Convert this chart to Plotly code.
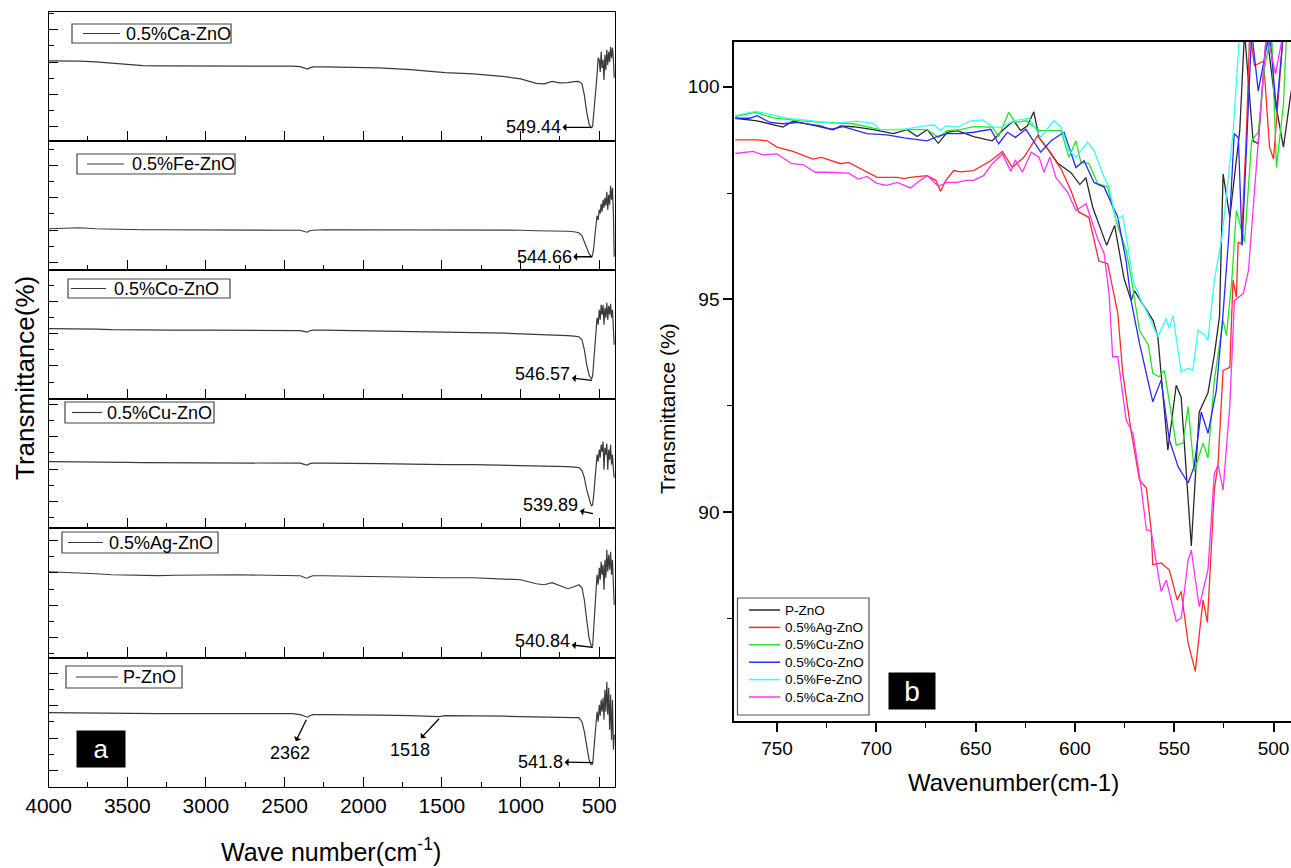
import plotly.graph_objects as go

# ---------------- Panel (a): full FTIR spectra (stacked) ----------------
wavenumber_a = [4000, 3900, 3800, 3700, 3600, 3500, 3400, 3300, 3200, 3000,
                2800, 2600, 2450, 2400, 2370, 2355, 2340, 2320, 2250, 2100,
                1900, 1700, 1560, 1518, 1480, 1300, 1100, 1000, 900, 850,
                800, 750, 700, 660, 630, 610, 595, 580, 565, 555,
                548, 542, 535, 528, 521, 514, 507, 500, 494, 488,
                482, 476, 470, 464, 458, 452, 446, 440, 434, 428,
                422, 416, 410, 405]

ca_a = [80, 80, 79.7, 79, 77.7, 76, 75.2, 75, 75, 75,
        75, 74.7, 74.7, 74.2, 72.4, 71.8, 73, 74, 74, 73.5,
        73, 71.2, 69.3, 68.4, 68.2, 67, 64.2, 62, 57.5, 57,
        59.5, 58, 58.3, 59.3, 59.5, 57, 46, 29, 17, 14,
        13, 15, 26, 41, 53, 66, 83, 81, 69, 89,
        73, 81, 61, 86, 71, 91, 76, 89, 79, 94,
        83, 93, 81, 63]
fe_a = [41.3, 41.8, 42.3, 41.3, 40.8, 40.3, 40.3, 40.3, 40.3, 40.3,
        40.3, 40.3, 40.3, 39.8, 38.3, 37.8, 39.3, 39.8, 40.3, 40.3,
        40.3, 40.1, 40, 40, 40, 39.9, 39.8, 39.8, 39.3, 39.3,
        39.3, 39, 38.8, 38.3, 37.3, 34.3, 28.3, 20.3, 16.3, 14.3,
        13.3, 15.3, 22.3, 34.3, 42.3, 54.3, 50.3, 60.3, 56.3, 66.3,
        58.3, 70.3, 62.3, 72.3, 64.3, 78.3, 60.3, 75.3, 65.3, 84.3,
        70.3, 82.3, 55.3, 13.3]
co_a = [70.5, 70.5, 70.5, 70, 69.5, 69.3, 69, 69, 69, 69,
        69, 69, 69, 68.5, 67.5, 67, 68.5, 69, 69, 68.5,
        68, 67.5, 67, 66.5, 66.5, 66.5, 66, 65.5, 65, 64.8,
        64.5, 64, 63.5, 63, 62.5, 59.5, 49.5, 34.5, 24.5, 21.5,
        20.5, 23.5, 39.5, 54.5, 69.5, 81.5, 74.5, 89.5, 79.5, 94.5,
        84.5, 94.5, 74.5, 91.5, 81.5, 96.5, 79.5, 93.5, 84.5, 95.5,
        81.5, 89.5, 69.5, 54.5]
cu_a = [66.7, 66.7, 66.7, 66.5, 66.2, 66, 65.7, 65.7, 65.7, 65.7,
        65.7, 65.7, 65.7, 65.2, 63.7, 63.2, 64.7, 65.2, 65.2, 64.7,
        64.7, 64.2, 63.7, 63.7, 63.7, 63.7, 63.2, 62.7, 62.7, 62.5,
        62.2, 61.9, 61.7, 61.2, 60.7, 57.7, 50.7, 38.7, 28.7, 24.7,
        22.7, 23.7, 33.7, 48.7, 60.7, 73.7, 66.7, 78.7, 70.7, 83.7,
        76.7, 86.7, 58.7, 80.7, 73.7, 84.7, 58.7, 78.7, 68.7, 83.7,
        63.7, 73.7, 58.7, 50.7]
ag_a = [85.8, 85.3, 84.8, 83.8, 82.8, 82.3, 81.8, 82, 82.3, 82.8,
        82.8, 82.3, 82.3, 81.8, 79.8, 79.3, 80.8, 81.8, 81.8, 81.3,
        80.8, 80.3, 79.8, 79.8, 79.8, 79.8, 78.8, 77.8, 73.8, 72.8,
        74.8, 71.8, 68.8, 70.8, 72.8, 69.8, 57.8, 37.8, 19.8, 13.8,
        10.8, 11.8, 25.8, 47.8, 65.8, 82.8, 72.8, 89.8, 77.8, 95.8,
        82.8, 92.8, 67.8, 97.8, 79.8, 107.8, 85.8, 102.8, 87.8, 105.8,
        82.8, 97.8, 72.8, 52.8]
p_a = [74, 73.8, 73.5, 73.2, 73, 73, 73, 73, 73, 73,
       73, 73, 73, 72, 70, 69.5, 71, 72, 72, 72,
       71.5, 71, 70.5, 70, 71, 71, 70.5, 70, 69.5, 69.3,
       69, 69, 69, 69, 69, 65, 55, 39, 27, 23,
       22, 23, 35, 49, 62, 75, 65, 82, 71, 87,
       75, 89, 67, 97, 75, 105, 72, 99, 57, 92,
       47, 87, 37, 52]

samples_a = ["0.5%Ca-ZnO", "0.5%Fe-ZnO", "0.5%Co-ZnO", "0.5%Cu-ZnO", "0.5%Ag-ZnO", "P-ZnO"]
peak_wn_a = [549.44, 544.66, 546.57, 539.89, 540.84, 541.8]
peak_labels_a = ["549.44", "544.66", "546.57", "539.89", "540.84", "541.8"]
peak_level_a = [13.5, 13.3, 18.8, 14.7, 10.1, 24]
band_wn_a = [2362, 1518]
band_labels_a = ["2362", "1518"]
band_level_a = [67, 68]
x_ticks_a = [4000, 3500, 3000, 2500, 2000, 1500, 1000, 500]

# ---------------- Panel (b): zoom 770-490 cm-1 ----------------
wn_pzno = [771, 760, 747, 742, 732, 721.7, 718, 711.6, 701.5, 691.4, 684.5, 679.4, 674.4, 668.8,
           664.3, 659.2, 651, 641.6, 635.8, 630.8, 627.3, 623.9, 620.7, 618, 613, 608.6, 602, 597.5,
           594.5, 591, 584, 580, 575.3, 571.7, 570, 560.6, 558.2, 553.2, 549, 546.5, 541.4, 537.4,
           533, 529.7, 527.2, 525.4, 522, 517, 514.6, 510.3, 507.7, 503.5, 499.5, 495, 491.8, 489]
t_pzno = [99.26, 99.2, 99.05, 99.19, 99.1, 98.99, 99.08, 99.06, 98.99, 98.9, 98.99, 98.83, 98.99, 98.67,
          98.93, 98.97, 98.83, 98.73, 99.0, 99.2, 98.97, 99.08, 99.41, 98.8, 98.5, 98.2, 97.98, 97.7,
          97.86, 97.16, 96.27, 96.74, 95.5, 94.97, 95.2, 94.5, 94.1, 91.45, 92.98, 92.7, 89.2, 92.35,
          92.8, 93.73, 94.6, 97.95, 96.93, 98.97, 101.3, 98.73, 98.66, 101.3, 99.75, 98.58, 99.67, 100.5]

wn_ag = [771, 760, 755, 750, 742, 732, 727.5, 718, 714, 699.6, 689.5, 686, 683, 674.4, 670, 667.7,
         665, 661, 657.6, 651, 642.4, 636.5, 631.5, 625.7, 618.8, 613.8, 607, 602, 598, 593, 587.9,
         583.5, 578.4, 575.9, 571.7, 567.5, 564, 561.6, 560.8, 556.6, 552.5, 548.5, 546.5, 543, 539.4,
         535.5, 533.3, 529.8, 527.9, 525.4, 522, 520.4, 518.7, 517.8, 516.2, 513.6, 512, 509.6, 505,
         502, 500, 497.6, 495, 490]
t_ag = [98.75, 98.75, 98.73, 98.58, 98.48, 98.3, 98.34, 98.19, 98.22, 97.87, 97.87, 97.84, 97.87, 97.91,
        97.8, 97.54, 97.8, 98.03, 98.0, 98.03, 98.26, 98.48, 98.1, 98.34, 98.85, 98.54, 98.07, 97.56,
        97.05, 96.93, 95.9, 95.84, 94.67, 93.26, 91.9, 90.75, 90.56, 89.58, 88.76, 88.8, 88.64, 87.93,
        88.13, 86.92, 86.25, 87.93, 87.4, 90.52, 91.15, 93.33, 93.4, 95.45, 95.05, 96.35, 96.3, 98.97,
        101.3, 100.5, 100.6, 98.58, 98.3, 99.75, 101.3, 101.3]

wn_cu = [771, 761, 752, 738, 725, 711.6, 698, 686, 674.4, 668.7, 664.3, 657.6, 651, 641.6, 638.4,
         633.3, 630, 624.7, 618, 612, 607, 603, 599.5, 597, 593, 588.5, 583.5, 579.3, 574.2, 571.7,
         567.5, 563, 560.8, 557.6, 555, 551.5, 549, 545.6, 543, 539.9, 535.5, 533, 529.8, 525.4,
         523.7, 521, 518.7, 514.6, 511, 507.7, 504.5, 501, 498.5, 495, 493.4, 490]
t_cu = [99.3, 99.4, 99.27, 99.2, 99.16, 99.13, 98.99, 99.0, 98.99, 98.81, 98.97, 98.99, 99.06, 99.05,
        98.83, 99.4, 99.16, 99.2, 98.97, 98.97, 98.97, 98.34, 98.73, 98.22, 98.2, 97.72, 97.64, 96.85,
        96.15, 95.52, 94.27, 93.92, 93.26, 93.18, 93.33, 92.32, 91.57, 91.62, 92.47, 90.95, 91.62,
        91.27, 93.1, 94.5, 94.15, 95.45, 97.09, 96.35, 98.73, 98.93, 100.45, 101.3, 98.1, 99.6, 101.3,
        101.3]

wn_co = [771, 763.6, 760, 753.5, 747, 740, 728, 723, 716.7, 704.7, 694.6, 686, 674.4, 669.4, 664.3,
         657.6, 651, 642.4, 638.4, 634, 630, 624.7, 617.2, 612, 605.5, 599.5, 595.4, 590.4, 585.3,
         578.4, 574.2, 571.7, 567.5, 564, 560.8, 556.6, 552.5, 548, 543, 540, 536.4, 533, 528.8,
         525.4, 522.5, 519.8, 517.7, 515.8, 511, 507.7, 505.2, 502, 498.5, 495, 490]
t_co = [99.26, 99.26, 99.32, 99.16, 99.13, 99.16, 99.08, 99.0, 99.06, 98.9, 98.87, 98.8, 98.73, 98.83,
        98.9, 98.9, 98.93, 99.0, 98.66, 98.93, 98.81, 99.0, 98.46, 98.73, 98.93, 98.1, 98.26, 97.75,
        97.64, 96.93, 95.9, 94.97, 93.97, 93.26, 92.59, 93.1, 91.7, 91.06, 90.68, 91.06, 92.35, 91.85,
        92.86, 94.67, 96.5, 98.9, 98.8, 96.27, 101.3, 99.9, 100.5, 101.3, 99.44, 101.3, 101.3]

wn_fe = [771, 761, 755, 745, 732, 721.7, 709.7, 701.5, 698, 686, 676, 671, 667.7, 665, 659, 652.5,
         646.6, 641, 636.5, 630.8, 623, 617.2, 610.7, 607, 603, 599.5, 593.6, 590.4, 585.3, 582.8,
         579.3, 575.9, 573.5, 570.8, 566.7, 563.4, 558.2, 554, 552.5, 550.6, 546.5, 543, 540.6, 538,
         535.5, 533, 529.8, 526, 520.4, 517, 510, 500, 490]
t_fe = [99.32, 99.42, 99.37, 99.26, 99.2, 99.14, 99.19, 99.14, 98.99, 99.0, 99.08, 99.1, 98.97, 99.08,
        99.05, 99.2, 99.22, 99.05, 99.05, 99.2, 99.26, 98.81, 99.2, 99.05, 98.5, 98.34, 98.7, 98.5,
        97.87, 97.64, 96.85, 96.97, 96.3, 95.45, 94.97, 94.67, 94.12, 94.55, 94.32, 94.62, 93.29,
        93.38, 93.33, 94.27, 94.2, 94.04, 95.45, 96.46, 98.9, 101.3, 101.3, 101.3, 101.3]

wn_ca = [771, 767, 762, 757, 750, 742.6, 736.9, 730.8, 725, 714, 709, 704.7, 699.7, 694.6, 689.5,
         682.8, 679.4, 674.4, 668.8, 664.3, 659.2, 655, 651, 646, 641.6, 636.5, 632.3, 630, 626.4,
         622, 618, 615.6, 612.6, 609.6, 603.7, 599.5, 594.4, 588.5, 585.3, 582.8, 581, 578.4, 574.2,
         570.8, 566.7, 564, 561.6, 556.6, 554, 549, 546.5, 543, 541.4, 537.4, 533, 529.8, 527.9, 525.4,
         522, 519.7, 517.8, 515.2, 512.6, 507.7, 503.5, 499, 495, 490]
t_ca = [98.43, 98.46, 98.48, 98.4, 98.42, 98.19, 98.17, 97.99, 97.99, 97.97, 97.83, 97.89, 97.73, 97.68,
        97.75, 97.62, 97.75, 97.91, 97.66, 97.75, 97.75, 97.8, 97.8, 97.91, 98.19, 98.42, 98.01, 98.28,
        97.99, 98.46, 98.34, 97.99, 98.34, 97.87, 97.52, 97.09, 97.25, 96.42, 96.08, 95.14, 93.65,
        93.65, 92.16, 91.85, 90.6, 89.58, 89.54, 88.13, 88.4, 87.43, 87.5, 88.87, 89.1, 87.77, 88.64,
        90.9, 91.1, 90.52, 92.5, 94.97, 95.05, 95.14, 95.68, 98.66, 101.3, 100.3, 101.3, 101.3]

names_b = ["P-ZnO", "0.5%Ag-ZnO", "0.5%Cu-ZnO", "0.5%Co-ZnO", "0.5%Fe-ZnO", "0.5%Ca-ZnO"]
x_ticks_b = [750, 700, 650, 600, 550, 500]
y_ticks_b = [90, 95, 100]

# ---------------- figure geometry (pixels) ----------------
W, H = 1291, 868
FONT = "Arial, Liberation Sans, sans-serif"


def fx(p):
    return p / W


def fy(p):
    return 1 - p / H


fig = go.Figure()

LX0, LX1 = 48.6, 615.0
LT, LB = 11.7, 786.7
PH = (LB - LT) / 6
left_series = [ca_a, fe_a, co_a, cu_a, ag_a, p_a]
tick_offsets = [14.2, 7.6, 1.0, 27.0, 20.0, 16.3]
legend_boxes = [  # rect x0, x1, y0, y1, line x0, x1, text x
    (72, 231, 24, 43, 83, 120, 124),
    (77, 235, 154, 174, 87, 124, 130),
    (68, 230, 279, 298, 71, 106, 112),
    (65, 214, 402, 423, 72, 102, 105),
    (62, 218, 532, 553, 68, 103, 107),
    (66, 182, 666, 688, 76, 118, 121),
]
peak_offsets = [(-58, 0), (-48, 0), (-49, -6), (-42, -9), (-50, -6), (-52, -1)]

shapes = []
annotations = []
for i, (name, ys) in enumerate(zip(samples_a, left_series)):
    k = "" if i == 0 else str(i + 1)
    top = LT + i * PH
    bot = top + PH
    fig.add_trace(go.Scatter(x=wavenumber_a, y=ys, mode="lines", name=name, showlegend=False,
                             line=dict(color="#3a3a3a", width=1.2),
                             xaxis="x" + k, yaxis="y" + k, hoverinfo="skip"))
    fig.update_layout(**{
        "xaxis" + k: dict(domain=[fx(LX0), fx(LX1)], range=[4000, 400], anchor="y" + k,
                          automargin=False,
                          showline=True, linecolor="black", linewidth=1.4, mirror=True,
                          ticks="inside", ticklen=10, tickwidth=1.4, tickcolor="black",
                          tickvals=x_ticks_a, ticktext=[str(v) for v in x_ticks_a],
                          showticklabels=(i == 5), showgrid=False, zeroline=False,
                          tickfont=dict(family=FONT, size=21, color="black"),
                          minor=dict(dtick=250, tick0=0, ticks="inside", ticklen=5,
                                     tickwidth=1.2, tickcolor="black", showgrid=False)),
        "yaxis" + k: dict(domain=[fy(bot), fy(top)], range=[0, PH], anchor="x" + k,
                          automargin=False,
                          showline=True, linecolor="black", linewidth=1.4, mirror=True,
                          ticks="inside", ticklen=9, tickwidth=1.4, tickcolor="black",
                          tick0=tick_offsets[i], dtick=2 * PH / 8, showticklabels=False,
                          showgrid=False, zeroline=False,
                          minor=dict(tick0=tick_offsets[i], dtick=PH / 8, ticks="inside",
                                     ticklen=5, tickwidth=1.2, tickcolor="black", showgrid=False)),
    })
    # legend box for this sub-panel
    rx0, rx1, ry0, ry1, lx0, lx1, tx = legend_boxes[i]
    shapes.append(dict(type="rect", xref="paper", yref="paper", x0=fx(rx0), x1=fx(rx1),
                       y0=fy(ry1), y1=fy(ry0), line=dict(color="#444", width=1.2),
                       fillcolor="white", layer="above"))
    ym = (ry0 + ry1) / 2
    shapes.append(dict(type="line", xref="paper", yref="paper", x0=fx(lx0), x1=fx(lx1),
                       y0=fy(ym), y1=fy(ym), line=dict(color="#3a3a3a", width=1.2)))
    annotations.append(dict(text=name, xref="paper", yref="paper", x=fx(tx), y=fy(ym),
                            xanchor="left", yanchor="middle", showarrow=False,
                            font=dict(family=FONT, size=18, color="black")))
    # peak label with arrow
    ax, ay = peak_offsets[i]
    annotations.append(dict(text=peak_labels_a[i], x=peak_wn_a[i], y=peak_level_a[i],
                            xref="x" + k, yref="y" + k, showarrow=True, arrowside="start",
                            arrowhead=2, arrowsize=1.7, arrowwidth=1.3, arrowcolor="black",
                            ax=ax, ay=ay, standoff=0, startstandoff=0,
                            font=dict(family=FONT, size=18, color="black")))

# band labels in P-ZnO panel
for wn, lab, lev, (ax, ay) in zip(band_wn_a, band_labels_a, band_level_a, [(-16, 33), (-29, 31)]):
    annotations.append(dict(text=lab, x=wn, y=lev, xref="x6", yref="y6", showarrow=True,
                            arrowside="start", arrowhead=2, arrowsize=1.6, arrowwidth=1.3,
                            arrowcolor="black", ax=ax, ay=ay, standoff=0, startstandoff=0,
                            font=dict(family=FONT, size=18, color="black")))

# panel (b)
colors_b = ["#2a2a2a", "#ff2a2a", "#22e622", "#2a2aff", "#33ffff", "#ff33ff"]
series_b = [(wn_pzno, t_pzno), (wn_ag, t_ag), (wn_cu, t_cu), (wn_co, t_co), (wn_fe, t_fe), (wn_ca, t_ca)]
for name, (xs, ys), c in zip(names_b, series_b, colors_b):
    fig.add_trace(go.Scatter(x=xs, y=ys, mode="lines", name=name, line=dict(color=c, width=1.3),
                             xaxis="x7", yaxis="y7", hoverinfo="skip", showlegend=False))

RX0, RX1 = 734.3, 1291
RT, RB = 41.7, 720.7
fig.update_layout(
    xaxis7=dict(domain=[fx(RX0), fx(RX1)], range=[771.5, 491.2], anchor="y7", automargin=False,
                showline=True, linecolor="black", linewidth=2, mirror=True,
                ticks="outside", ticklen=9, tickwidth=1.6, tickcolor="black",
                tickvals=x_ticks_b, ticktext=[str(v) for v in x_ticks_b],
                showgrid=False, zeroline=False,
                tickfont=dict(family=FONT, size=19, color="black"),
                minor=dict(dtick=25, tick0=0, ticks="outside", ticklen=5, tickwidth=1.4,
                           tickcolor="black", showgrid=False)),
    yaxis7=dict(domain=[fy(RB), fy(RT)], range=[85.09, 101.06], anchor="x7", automargin=False,
                showline=True, linecolor="black", linewidth=2, mirror=False,
                ticks="outside", ticklen=9, tickwidth=1.6, tickcolor="black",
                tickvals=y_ticks_b, ticktext=[str(v) for v in y_ticks_b],
                showgrid=False, zeroline=False,
                tickfont=dict(family=FONT, size=19, color="black"),
                minor=dict(dtick=2.5, tick0=0, ticks="outside", ticklen=5, tickwidth=1.4,
                           tickcolor="black", showgrid=False)),
)

# legend of panel (b)
LG_X0, LG_X1, LG_Y0, LG_Y1 = 737.5, 869, 598, 715
shapes.append(dict(type="rect", xref="paper", yref="paper", x0=fx(LG_X0), x1=fx(LG_X1),
                   y0=fy(LG_Y1), y1=fy(LG_Y0), line=dict(color="#555", width=1.2),
                   fillcolor="white", layer="above"))
for j, (name, c) in enumerate(zip(names_b, colors_b)):
    yy = 610 + j * 17.4
    shapes.append(dict(type="line", xref="paper", yref="paper", x0=fx(749), x1=fx(780),
                       y0=fy(yy), y1=fy(yy), line=dict(color=c, width=1.5)))
    annotations.append(dict(text=name, xref="paper", yref="paper", x=fx(783), y=fy(yy),
                            xanchor="left", yanchor="middle", showarrow=False,
                            font=dict(family=FONT, size=13.5, color="black")))

# axis titles and panel tags
annotations += [
    dict(text="Transmittance(%)", xref="paper", yref="paper", x=fx(25), y=fy(378),
         xanchor="center", yanchor="middle",
         textangle=-90, showarrow=False, font=dict(family=FONT, size=26, color="black")),
    dict(text="Wave number(cm<sup>-1</sup>)", xref="paper", yref="paper", x=fx(331), y=fy(850),
         xanchor="center", yanchor="middle",
         showarrow=False, font=dict(family=FONT, size=25, color="black")),
    dict(text="Transmittance (%)", xref="paper", yref="paper", x=fx(668), y=fy(409),
         xanchor="center", yanchor="middle",
         textangle=-90, showarrow=False, font=dict(family=FONT, size=21, color="black")),
    dict(text="Wavenumber(cm-1)", xref="paper", yref="paper", x=fx(1013), y=fy(782),
         xanchor="center", yanchor="middle",
         showarrow=False, font=dict(family=FONT, size=24, color="black")),
    dict(text="a", xref="paper", yref="paper", x=fx(101), y=fy(749), showarrow=False,
         xanchor="center", yanchor="middle",
         width=46, height=34, bgcolor="black", borderpad=1,
         font=dict(family=FONT, size=26, color="white")),
    dict(text="b", xref="paper", yref="paper", x=fx(911.5), y=fy(691), showarrow=False,
         xanchor="center", yanchor="middle",
         width=44, height=34, bgcolor="black", borderpad=1,
         font=dict(family=FONT, size=28, color="white")),
]

fig.update_layout(
    width=W, height=H, margin=dict(l=0, r=0, t=0, b=0, autoexpand=False),
    paper_bgcolor="white", plot_bgcolor="white",
    font=dict(family=FONT, color="black"),
    shapes=shapes, annotations=annotations,
    showlegend=False,
)

fig.write_html("out.html", config={"displayModeBar": False},
               post_script="document.body.style.margin='0px';document.body.style.overflow='hidden';")
